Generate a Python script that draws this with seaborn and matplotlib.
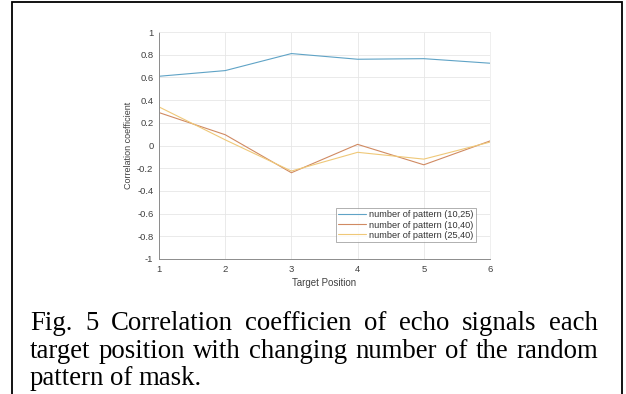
import matplotlib
matplotlib.use('Agg')
import matplotlib.pyplot as plt
import seaborn as sns
import pandas as pd
from matplotlib.patches import Rectangle

# data
positions = [1, 2, 3, 4, 5, 6]
corr_10_25 = [0.61, 0.66, 0.81, 0.76, 0.765, 0.725]
corr_10_40 = [0.29, 0.095, -0.24, 0.01, -0.17, 0.04]
corr_25_40 = [0.34, 0.05, -0.225, -0.06, -0.12, 0.03]
series_names = ['number of pattern (10,25)', 'number of pattern (10,40)',
                'number of pattern (25,40)']
caption_lines = ['Fig. 5 Correlation coefficien of echo signals each',
                 'target position with changing number of the random',
                 'pattern of mask.']

df = pd.DataFrame({'Target Position': positions * 3,
                   'corr': corr_10_25 + corr_10_40 + corr_25_40,
                   'series': [n for n in series_names for _ in positions]})

sns.set_style('white')
plt.rcParams['font.family'] = ['Liberation Sans', 'DejaVu Sans']

fig = plt.figure(figsize=(6.26, 3.94), dpi=100)
ax = fig.add_axes([159 / 626, 1 - 259 / 394, 331 / 626, 227 / 394])

palette = ['#5fa3c6', '#d08a62', '#efc878']
sns.lineplot(data=df, x='Target Position', y='corr', hue='series',
             palette=palette, linewidth=0.8, ax=ax)

ax.set_xlim(1, 6)
ax.set_ylim(-1, 1)
ax.set_xticks(positions)
yt = [round(-1 + 0.2 * i, 1) for i in range(11)]
ax.set_yticks(yt)
ax.set_yticklabels(['%g' % v if v != 0 else '0' for v in yt])
ax.grid(True, color='#e6e6e6', linewidth=0.6)
for s in ['top', 'right']:
    ax.spines[s].set_color('#ececec')
    ax.spines[s].set_linewidth(0.6)
for s in ['left', 'bottom']:
    ax.spines[s].set_color('#8c8c8c')
    ax.spines[s].set_linewidth(0.7)
ax.tick_params(direction='in', length=2.5, width=0.6, colors='#8c8c8c',
               labelcolor='#404040', labelsize=6.8, pad=4)
ax.set_xlabel('Target Position', fontsize=7, color='#404040', labelpad=3)
ax.set_ylabel('Correlation coefficient', fontsize=6.5, color='#404040', labelpad=3)

leg = ax.legend(loc='lower right', fontsize=6.6, frameon=True, fancybox=False,
                handlelength=3.0, borderpad=0.25, labelspacing=0.12,
                handletextpad=0.4, borderaxespad=0,
                bbox_to_anchor=(0.958, 0.075))
leg.get_frame().set_edgecolor('#8c8c8c')
leg.get_frame().set_linewidth(0.6)
for t in leg.get_texts():
    t.set_color('#333333')

# outer frame around figure + caption
fig.add_artist(Rectangle((12 / 626, -0.05), 610 / 626, 1 - 1.5 / 394 + 0.05,
                         transform=fig.transFigure, fill=False,
                         edgecolor='black', linewidth=1.3))

# justified caption
left, right = 30 / 626, 598 / 626
baselines = [330, 358, 385]
fig.canvas.draw()
r = fig.canvas.get_renderer()
for li, (line, yb) in enumerate(zip(caption_lines, baselines)):
    words = line.split(' ')
    texts = [fig.text(0, 1 - yb / 394, w, fontsize=19.3, family='Liberation Serif',
                      va='baseline', ha='left', color='black') for w in words]
    widths = [t.get_window_extent(r).width / 626 for t in texts]
    if li < 2:
        gap = (right - left - sum(widths)) / (len(words) - 1)
    else:
        gap = 0.0095
    x = left
    for t, w in zip(texts, widths):
        t.set_x(x)
        x += w + gap

fig.savefig('out.png', dpi=100)
